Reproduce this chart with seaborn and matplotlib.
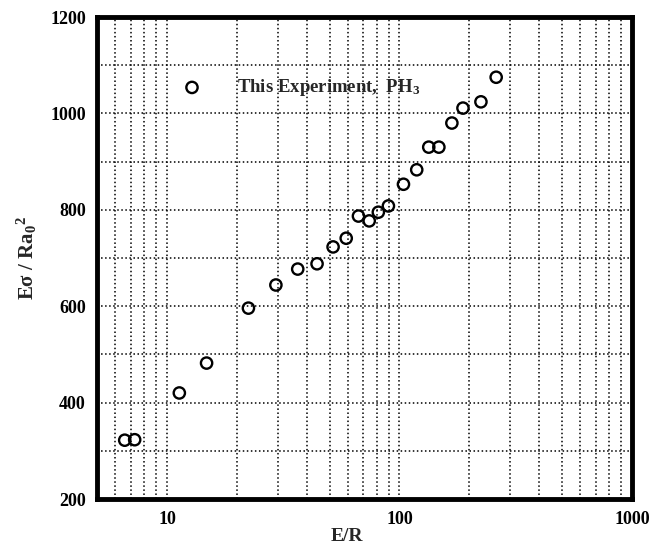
import matplotlib
matplotlib.use("Agg")
import matplotlib.pyplot as plt
import seaborn as sns
import pandas as pd
from matplotlib.ticker import LogLocator, FixedLocator, NullFormatter, FixedFormatter

energy_ratio = [6.58, 7.26, 11.3, 14.8, 22.4, 29.4, 36.5, 44.2, 51.8, 59.0, 66.6,
                74.1, 81.1, 89.6, 104, 118.6, 133.6, 147.7, 168, 187.5, 224, 260.5]
cross_section = [322, 323, 420, 482, 596, 644, 677, 688, 723, 741, 787,
                 777, 795, 808, 853, 883, 930, 930, 980, 1011, 1024, 1075]
series_label = "This Experiment,  PH$_3$"
x_ticks = [10, 100, 1000]
x_tick_labels = ["10", "100", "1000"]
y_ticks = [200, 400, 600, 800, 1000, 1200]

df = pd.DataFrame({"E/R": energy_ratio, "val": cross_section})

sns.set_style("white")
plt.rcParams['font.family'] = ['Liberation Serif', 'DejaVu Serif']
plt.rcParams['mathtext.fontset'] = 'custom'
plt.rcParams['mathtext.rm'] = 'Liberation Serif:bold'
plt.rcParams['mathtext.it'] = 'Liberation Serif:bold'
plt.rcParams['mathtext.bf'] = 'Liberation Serif:bold'

fig = plt.figure(figsize=(6.6, 5.44), dpi=100)
ax = fig.add_axes([97/660, 1 - 499/544, 535/660, 482/544])

sns.scatterplot(data=df, x="E/R", y="val", ax=ax, marker="o", s=66,
                facecolors="none", edgecolor="black", linewidth=1.7,
                label=series_label, zorder=3)

ax.set_xscale("log")
ax.set_xlim(5, 1000)
ax.set_ylim(200, 1200)

ax.xaxis.set_major_locator(FixedLocator(x_ticks))
ax.xaxis.set_major_formatter(FixedFormatter(x_tick_labels))
ax.xaxis.set_minor_locator(LogLocator(base=10, subs=range(2, 10), numticks=20))
ax.xaxis.set_minor_formatter(NullFormatter())
ax.yaxis.set_major_locator(FixedLocator(y_ticks))
ax.yaxis.set_minor_locator(FixedLocator([300, 500, 700, 900, 1100]))

ax.grid(True, which="both", axis="x", color="black", linestyle=":", linewidth=1.1)
ax.grid(True, which="both", axis="y", color="black", linestyle=":", linewidth=1.1)

for sp in ax.spines.values():
    sp.set_linewidth(3.5)
    sp.set_color("black")

ax.tick_params(axis="both", which="both", direction="in", length=4, width=1.5,
               colors="black", labelsize=13)
ax.tick_params(axis="x", which="major", pad=9)
ax.tick_params(axis="y", which="major", pad=8)
for lab in ax.get_xticklabels() + ax.get_yticklabels():
    lab.set_fontweight("bold")

ax.set_xlabel("E/R", fontsize=14, fontweight="bold")
ax.xaxis.set_label_coords(0.467, -0.060)
ax.set_ylabel("E$\\sigma$ / Ra$_0$$^2$", fontsize=15, fontweight="bold", labelpad=8)

leg = ax.legend(loc="center left", bbox_to_anchor=(0.146, 0.853), frameon=False,
                handlelength=1.0, handletextpad=1.9, borderaxespad=0,
                prop={"weight": "bold", "size": 13.5})

fig.savefig("out.png", dpi=100)
